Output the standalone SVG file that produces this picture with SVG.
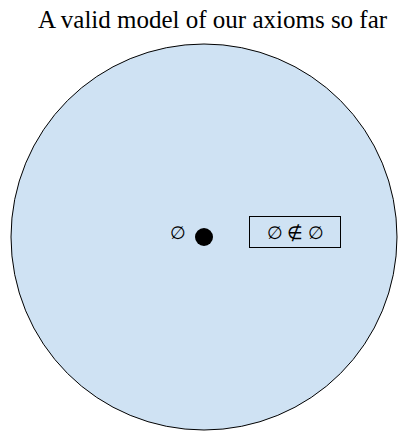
<svg xmlns="http://www.w3.org/2000/svg" width="407" height="441" viewBox="0 0 407 441">
<style>
.t{font-family:"Liberation Serif","Times New Roman",serif;fill:#000}
.title{font-size:25px}
.sym{font-size:18px}
</style>
<rect width="407" height="441" fill="#fff"/>
<text class="t title" x="212.5" y="27.5" text-anchor="middle">A valid model of our axioms so far</text>
<g id="universe">
<circle cx="204" cy="237" r="193" fill="#cfe2f3" stroke="#000" stroke-width="1"/>
</g>
<g id="emptyset">
<text class="t sym" x="178" y="239" text-anchor="middle">∅</text>
<circle cx="204" cy="237" r="9" fill="#000"/>
</g>
<g id="fact">
<rect x="249.5" y="216.5" width="91" height="31" fill="none" stroke="#000" stroke-width="1"/>
<text class="t sym" x="295" y="239" text-anchor="middle">∅ ∉ ∅</text>
</g>
<g id="connectors"></g>
</svg>
